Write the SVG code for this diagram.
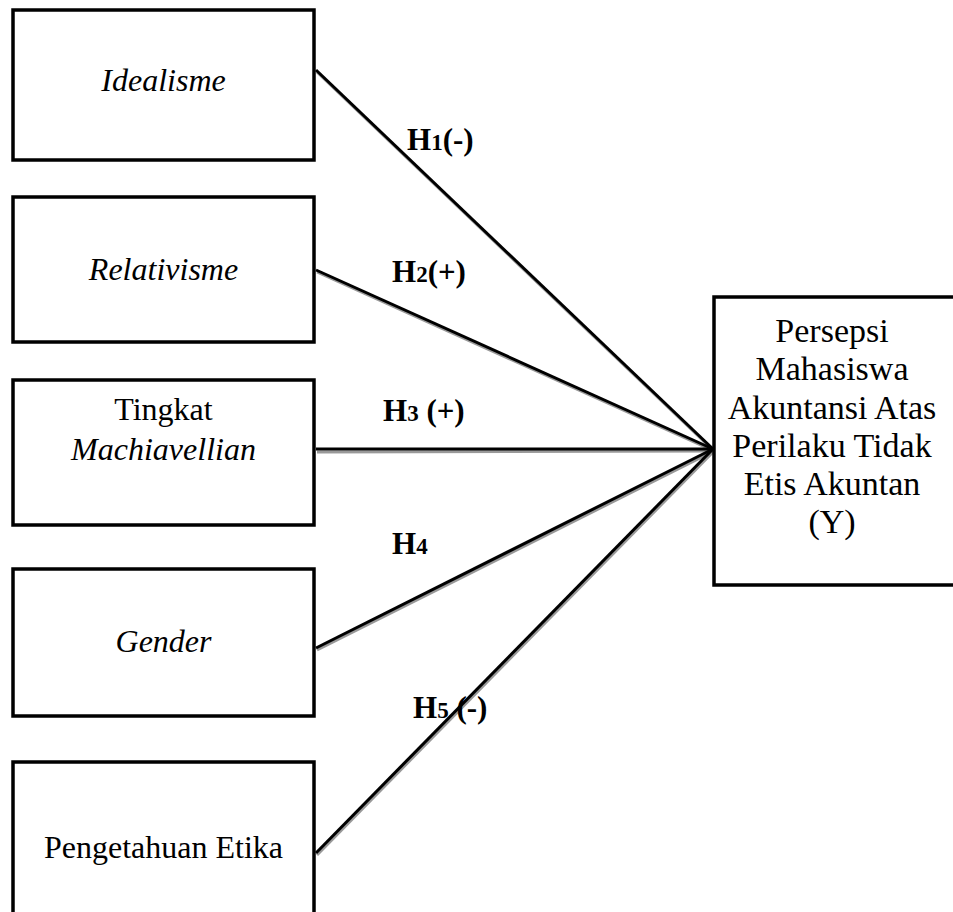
<svg xmlns="http://www.w3.org/2000/svg" width="953" height="912" viewBox="0 0 953 912">
<style>
.box{fill:#fff;stroke:#000;stroke-width:3.5}
.t{font-family:"Liberation Serif","Times New Roman",serif;font-size:32px;fill:#000;text-anchor:middle}
.r{font-size:34px}
.i{font-style:italic}
.lbl{font-family:"Liberation Serif","Times New Roman",serif;font-size:31px;font-weight:bold;fill:#000}
.sub{font-size:23px}
.sh{stroke:#999;stroke-width:3;fill:none}
.ln{stroke:#000;stroke-width:3;fill:none}
</style>
<g id="connectors">
<g transform="translate(1,2)">
<line class="sh" x1="316" y1="70" x2="713" y2="449"/>
<line class="sh" x1="316" y1="270" x2="713" y2="449"/>
<line class="sh" x1="316" y1="450" x2="713" y2="449"/>
<line class="sh" x1="316" y1="648" x2="713" y2="449"/>
<line class="sh" x1="316" y1="853" x2="713" y2="449"/>
</g>
<line class="ln" x1="316" y1="70" x2="713" y2="449"/>
<line class="ln" x1="316" y1="270" x2="713" y2="449"/>
<line class="ln" x1="316" y1="449" x2="713" y2="449"/>
<line class="ln" x1="316" y1="648" x2="713" y2="449"/>
<line class="ln" x1="316" y1="853" x2="713" y2="449"/>
</g>
<g id="labels">
<text class="lbl" x="407" y="150">H<tspan class="sub">1</tspan>(-)</text>
<text class="lbl" x="392" y="282">H<tspan class="sub">2</tspan>(+)</text>
<text class="lbl" x="383" y="421">H<tspan class="sub">3</tspan> (+)</text>
<text class="lbl" x="392" y="554">H<tspan class="sub">4</tspan></text>
<text class="lbl" x="413" y="718">H<tspan class="sub">5</tspan> (-)</text>
</g>
<g id="idealisme">
<rect class="box" x="13" y="10" width="301" height="150"/>
<text class="t i" x="163.5" y="91">Idealisme</text>
</g>
<g id="relativisme">
<rect class="box" x="13" y="197" width="301" height="145"/>
<text class="t i" x="163.5" y="280">Relativisme</text>
</g>
<g id="machiavellian">
<rect class="box" x="13" y="380" width="301" height="145"/>
<text class="t" x="163.5" y="420">Tingkat</text>
<text class="t i" x="163.5" y="460">Machiavellian</text>
</g>
<g id="gender">
<rect class="box" x="13" y="569" width="301" height="147"/>
<text class="t i" x="163.5" y="652">Gender</text>
</g>
<g id="pengetahuan">
<rect class="box" x="13" y="762" width="301" height="160"/>
<text class="t" x="163.5" y="858">Pengetahuan Etika</text>
</g>
<g id="persepsi">
<rect class="box" x="714" y="297" width="250" height="288"/>
<text class="t r" x="832" y="342">Persepsi</text>
<text class="t r" x="832" y="380">Mahasiswa</text>
<text class="t r" x="832" y="419">Akuntansi Atas</text>
<text class="t r" x="832" y="457">Perilaku Tidak</text>
<text class="t r" x="832" y="495">Etis Akuntan</text>
<text class="t r" x="832" y="533">(Y)</text>
</g>
</svg>
